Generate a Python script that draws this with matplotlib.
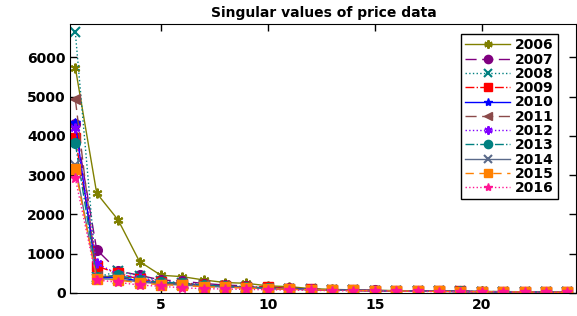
import matplotlib
matplotlib.use("Agg")
import matplotlib.pyplot as plt
import numpy as np

plt.rcParams['font.family'] = ['DejaVu Sans']
plt.rcParams['font.weight'] = 'bold'

x = list(range(1, 25))
years = ['2006', '2007', '2008', '2009', '2010', '2011', '2012', '2013', '2014', '2015', '2016']

s2006 = [5740, 2540, 1860, 800, 450, 415, 330, 265, 245, 180, 160, 110, 90, 78, 68, 60, 53, 47, 42, 38, 34, 30, 26, 22]
s2007 = [4300, 1100, 560, 450, 330, 300, 240, 200, 180, 140, 120, 95, 80, 70, 62, 55, 50, 45, 40, 36, 32, 28, 24, 20]
s2008 = [6640, 400, 550, 440, 300, 260, 210, 180, 160, 130, 110, 90, 78, 68, 60, 53, 48, 43, 39, 35, 31, 27, 23, 19]
s2009 = [3940, 680, 500, 350, 280, 240, 200, 170, 150, 160, 105, 88, 76, 66, 58, 52, 47, 42, 38, 34, 30, 26, 22, 18]
s2010 = [4330, 380, 400, 300, 250, 220, 180, 160, 140, 120, 100, 85, 74, 65, 57, 51, 46, 41, 37, 33, 29, 25, 21, 17]
s2011 = [4940, 420, 420, 320, 260, 230, 190, 165, 145, 125, 105, 88, 75, 66, 58, 52, 46, 41, 37, 33, 29, 25, 21, 17]
s2012 = [4200, 750, 480, 380, 290, 250, 200, 170, 150, 125, 105, 88, 76, 66, 58, 52, 46, 41, 37, 33, 29, 25, 21, 17]
s2013 = [3810, 400, 450, 330, 270, 250, 200, 170, 150, 120, 100, 85, 74, 65, 57, 51, 46, 41, 37, 33, 29, 25, 21, 17]
s2014 = [3250, 360, 350, 280, 230, 200, 170, 150, 130, 110, 95, 82, 72, 63, 56, 50, 45, 40, 36, 32, 28, 24, 20, 16]
s2015 = [3150, 350, 330, 250, 210, 190, 160, 140, 125, 105, 92, 80, 70, 62, 55, 49, 44, 39, 35, 31, 27, 23, 19, 15]
s2016 = [2920, 330, 270, 200, 170, 130, 110, 100, 90, 80, 72, 65, 58, 52, 47, 43, 39, 35, 31, 28, 25, 22, 19, 16]

series = [s2006, s2007, s2008, s2009, s2010, s2011, s2012, s2013, s2014, s2015, s2016]

asterisk = (6, 2, 0)
styles = [
    dict(color='#808000', ls='-', marker=asterisk, mew=1.5),
    dict(color='#800080', ls=(0, (8, 4)), marker='o'),
    dict(color='#008080', ls=':', marker='x', mew=1.5),
    dict(color='#ff0000', ls='-.', marker='s'),
    dict(color='#0000ff', ls='-', marker='*'),
    dict(color='#8b4a4a', ls=(0, (8, 4)), marker='<'),
    dict(color='#8000ff', ls=':', marker=asterisk, mew=1.5),
    dict(color='#008080', ls='-.', marker='o'),
    dict(color='#5a6a8a', ls='-', marker='x', mew=1.5),
    dict(color='#ff8000', ls=(0, (6, 4)), marker='s'),
    dict(color='#ff1493', ls=':', marker='*'),
]

fig = plt.figure(figsize=(5.77, 3.16), dpi=100)
ax = fig.add_axes([0.122, 0.073, 0.877, 0.851])

for yr, s, st in zip(years, series, styles):
    ax.plot(x, s, label=yr, lw=1.0, ms=7, markeredgecolor=st['color'],
            markerfacecolor=st['color'], **st)

ax.set_xlim(0.77, 24.42)
ax.set_ylim(0, 6850)
ax.set_xticks([5, 10, 15, 20])
ax.set_yticks([0, 1000, 2000, 3000, 4000, 5000, 6000])
ax.tick_params(direction='in', top=True, right=True, length=5, labelsize=10, width=1)
for lab in ax.get_xticklabels() + ax.get_yticklabels():
    lab.set_fontweight('bold')
ax.set_title('Singular values of price data', fontsize=10, fontweight='bold', pad=5)

leg = ax.legend(loc='upper right', bbox_to_anchor=(0.978, 0.988), fontsize=10,
                handlelength=3.2, labelspacing=0.02, borderpad=0.3,
                handletextpad=0.4, borderaxespad=0.5, fancybox=False, framealpha=1,
                edgecolor='black', markerscale=0.85)
leg.get_frame().set_linewidth(1.0)
for t in leg.get_texts():
    t.set_fontweight('bold')

fig.savefig('out.png', dpi=100)
